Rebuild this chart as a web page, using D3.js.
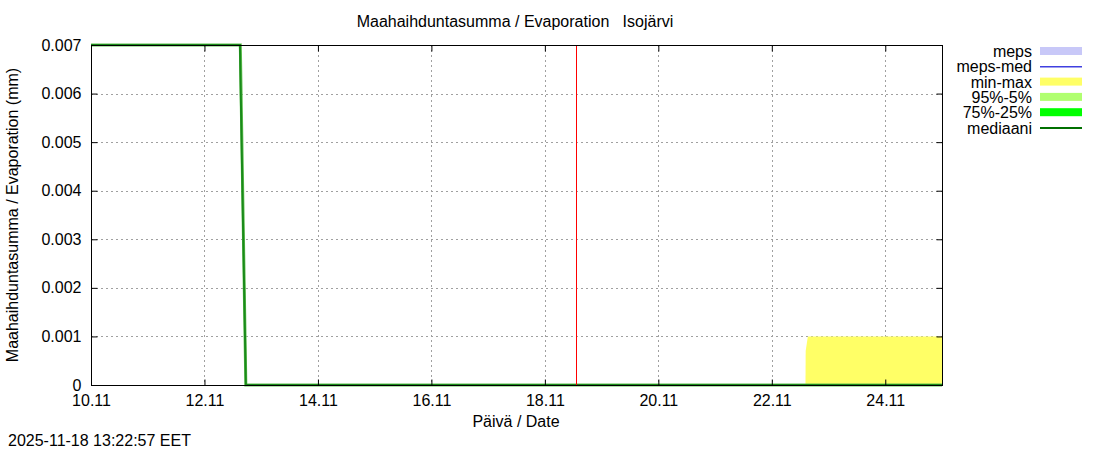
<!DOCTYPE html>
<html>
<head>
<meta charset="utf-8">
<script src="https://cdn.jsdelivr.net/npm/d3@7"></script>
<style>
  body { margin: 0; background: #fff; }
  svg text { font-family: "Liberation Sans", Arial, sans-serif; fill: #000; }
</style>
</head>
<body>
<div id="chart"></div>
<script>
// --- data ---------------------------------------------------------------
var medTimes   = ["2025-11-10T00:00", "2025-11-12T15:00", "2025-11-12T17:30", "2025-11-25T00:00"];
var medValues  = [0.007, 0.007, 0, 0];
var p95Times   = ["2025-11-10T00:00", "2025-11-12T15:00", "2025-11-12T15:10", "2025-11-12T17:30", "2025-11-25T00:00"];
var p95Upper   = [0.007, 0.007, 0.007, 0, 0];
var mmTimes    = ["2025-11-22T14:15", "2025-11-22T14:20", "2025-11-22T15:15", "2025-11-25T00:00"];
var mmMax      = [0, 0.0007, 0.001, 0.001];
var mmMin      = [0, 0, 0, 0];
var nowTime    = "2025-11-18T13:22";
var xTickDays  = ["2025-11-10", "2025-11-12", "2025-11-14", "2025-11-16", "2025-11-18", "2025-11-20", "2025-11-22", "2025-11-24"];
var yTicks     = [0, 0.001, 0.002, 0.003, 0.004, 0.005, 0.006, 0.007];
var legendNames  = ["meps", "meps-med", "min-max", "95%-5%", "75%-25%", "mediaani"];
var legendColors = ["#c8c8f8", "#4040e0", "#ffff66", "#b0ff70", "#00ff00", "#007000"];
var legendKinds  = ["area", "line", "area", "area", "area", "line"];

// --- layout -------------------------------------------------------------
var W = 1100, H = 450;
var pLeft = 91, pRight = 942, pTop = 45, pBottom = 385;
var FS = 16;
var parse = d3.timeParse("%Y-%m-%dT%H:%M");
var parseDay = d3.timeParse("%Y-%m-%d");

var x = d3.scaleTime()
    .domain([parseDay("2025-11-10"), parseDay("2025-11-25")])
    .range([pLeft, pRight]);
var y = d3.scaleLinear().domain([0, 0.007]).range([pBottom, pTop]);

var svg = d3.select("#chart").append("svg")
    .attr("width", W).attr("height", H);

// grid
var grid = svg.append("g").attr("stroke", "#a0a0a0").attr("stroke-dasharray", "2,3").attr("stroke-width", 1);
xTickDays.slice(1).forEach(function (d) {
    var px = Math.round(x(parseDay(d))) + 0.5;
    grid.append("line").attr("x1", px).attr("x2", px).attr("y1", pTop).attr("y2", pBottom);
});
yTicks.slice(1, -1).forEach(function (v) {
    var py = Math.round(y(v)) + 0.5;
    grid.append("line").attr("x1", pLeft).attr("x2", pRight).attr("y1", py).attr("y2", py);
});

// min-max area
var mm = mmTimes.map(function (t, i) { return { t: parse(t), hi: mmMax[i], lo: mmMin[i] }; });
svg.append("path").datum(mm)
    .attr("fill", legendColors[2])
    .attr("d", d3.area().x(function (d) { return x(d.t); })
        .y0(function (d) { return y(d.lo); }).y1(function (d) { return y(d.hi); }));

// 95-5 band (very narrow, shows as a light edge)
var p95 = p95Times.map(function (t, i) { return { t: parse(t), v: p95Upper[i] }; });
svg.append("path").datum(p95)
    .attr("fill", "none").attr("stroke", "#60c050").attr("stroke-width", 3)
    .attr("d", d3.line().x(function (d) { return x(d.t); }).y(function (d) { return y(d.v); }));

// median line
var med = medTimes.map(function (t, i) { return { t: parse(t), v: medValues[i] }; });
svg.append("path").datum(med)
    .attr("fill", "none").attr("stroke", "#1a8a1a").attr("stroke-width", 2)
    .attr("d", d3.line().x(function (d) { return x(d.t); }).y(function (d) { return y(d.v); }));

// now line
var nx = Math.round(x(parse(nowTime))) + 0.5;
svg.append("line").attr("x1", nx).attr("x2", nx).attr("y1", pTop).attr("y2", pBottom)
    .attr("stroke", "#ff0000").attr("stroke-width", 1);

// frame
svg.append("rect").attr("x", pLeft + 0.5).attr("y", pTop + 0.5)
    .attr("width", pRight - pLeft).attr("height", pBottom - pTop)
    .attr("fill", "none").attr("stroke", "#000").attr("stroke-width", 1);

// axes
var xAxis = d3.axisBottom(x).tickValues(xTickDays.map(parseDay))
    .tickFormat(d3.timeFormat("%d.%m")).tickSizeInner(-6).tickSizeOuter(0).tickPadding(12);
var gx = svg.append("g").attr("transform", "translate(0," + (pBottom + 0.5) + ")").call(xAxis);
var yAxis = d3.axisLeft(y).tickValues(yTicks)
    .tickFormat(function (v) { return v === 0 ? "0" : d3.format(".3f")(v); })
    .tickSizeInner(-6).tickSizeOuter(0).tickPadding(10);
var gy = svg.append("g").attr("transform", "translate(" + (pLeft + 0.5) + ",0)").call(yAxis);
var gx2 = svg.append("g").attr("transform", "translate(0," + (pTop + 0.5) + ")")
    .call(d3.axisTop(x).tickValues(xTickDays.map(parseDay)).tickFormat("").tickSizeInner(-6).tickSizeOuter(0));
var gy2 = svg.append("g").attr("transform", "translate(" + (pRight + 0.5) + ",0)")
    .call(d3.axisRight(y).tickValues(yTicks).tickFormat("").tickSizeInner(-6).tickSizeOuter(0));
[gx, gy, gx2, gy2].forEach(function (g) {
    g.select(".domain").remove();
    g.selectAll("line").attr("stroke", "#000");
    g.selectAll("text").attr("font-size", FS).attr("font-family", "Liberation Sans, Arial, sans-serif");
});
gx.selectAll("text").attr("dy", "0.5em");

// titles
svg.append("text").attr("x", 515).attr("y", 27).attr("text-anchor", "middle")
    .attr("font-size", FS).style("white-space", "pre")
    .text("Maahaihduntasumma / Evaporation   Isojärvi");
svg.append("text").attr("x", 516).attr("y", 427).attr("text-anchor", "middle")
    .attr("font-size", FS).text("Päivä / Date");
svg.append("text").attr("transform", "translate(18,215) rotate(-90)").attr("text-anchor", "middle")
    .attr("font-size", FS).text("Maahaihduntasumma / Evaporation (mm)");
svg.append("text").attr("x", 8).attr("y", 446).attr("font-size", FS)
    .text("2025-11-18 13:22:57 EET");

// legend
legendNames.forEach(function (name, i) {
    var ly = 51 + i * 15.3;
    svg.append("text").attr("x", 1032).attr("y", ly + 6).attr("text-anchor", "end")
        .attr("font-size", FS).text(name);
    if (legendKinds[i] === "area") {
        svg.append("rect").attr("x", 1040).attr("y", ly - 4).attr("width", 42).attr("height", 8)
            .attr("fill", legendColors[i]);
    } else {
        svg.append("line").attr("x1", 1040).attr("x2", 1082).attr("y1", ly + 0.5).attr("y2", ly + 0.5)
            .attr("stroke", legendColors[i]).attr("stroke-width", i === 5 ? 2 : 1.5);
    }
});
</script>
</body>
</html>
